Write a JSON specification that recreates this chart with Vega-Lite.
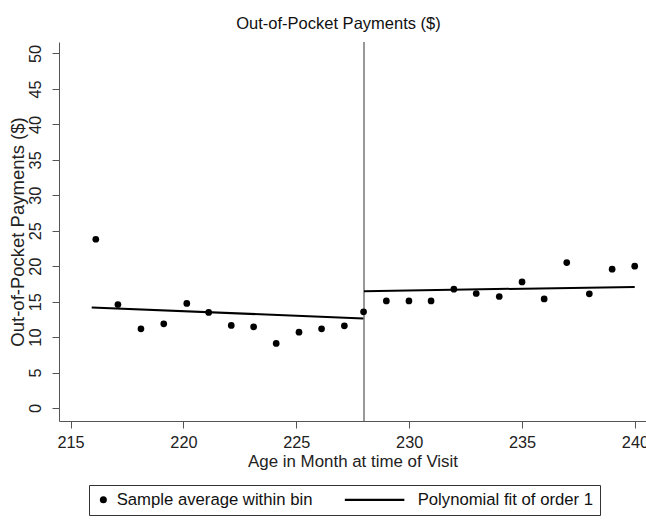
{
  "$schema": "https://vega.github.io/schema/vega-lite/v6.json",
  "width": 587,
  "height": 379,
  "autosize": {"type": "none"},
  "padding": {"left": 59, "top": 42, "right": 0, "bottom": 100},
  "background": "white",
  "config": {
    "font": "Liberation Sans, Arial, sans-serif",
    "view": {"stroke": null},
    "axis": {
      "grid": false,
      "domainColor": "#555555",
      "tickColor": "#555555",
      "tickSize": 7,
      "labelColor": "#222222",
      "titleColor": "#222222",
      "labelFont": "Liberation Sans, Arial, sans-serif",
      "titleFont": "Liberation Sans, Arial, sans-serif",
      "titleFontWeight": "normal",
      "labelFontSize": 16.3,
      "titleFontSize": 16.9,
      "labelOverlap": false
    },
    "axisY": {"labelAngle": -90, "labelOverlap": false}
  },
  "title": {
    "text": "Out-of-Pocket Payments ($)",
    "font": "Liberation Sans, Arial, sans-serif",
    "fontSize": 16.5,
    "fontWeight": "normal",
    "color": "#111111",
    "anchor": "middle",
    "offset": 9,
    "dx": -14
  },
  "datasets": {
    "bins": [
      {"age": 216.12, "pay": 23.8, "series": "Sample average within bin"},
      {"age": 217.1, "pay": 14.6, "series": "Sample average within bin"},
      {"age": 218.12, "pay": 11.17, "series": "Sample average within bin"},
      {"age": 219.13, "pay": 11.87, "series": "Sample average within bin"},
      {"age": 220.15, "pay": 14.75, "series": "Sample average within bin"},
      {"age": 221.12, "pay": 13.48, "series": "Sample average within bin"},
      {"age": 222.12, "pay": 11.65, "series": "Sample average within bin"},
      {"age": 223.11, "pay": 11.45, "series": "Sample average within bin"},
      {"age": 224.11, "pay": 9.11, "series": "Sample average within bin"},
      {"age": 225.12, "pay": 10.7, "series": "Sample average within bin"},
      {"age": 226.12, "pay": 11.17, "series": "Sample average within bin"},
      {"age": 227.13, "pay": 11.6, "series": "Sample average within bin"},
      {"age": 227.98, "pay": 13.56, "series": "Sample average within bin"},
      {"age": 228.99, "pay": 15.11, "series": "Sample average within bin"},
      {"age": 229.99, "pay": 15.11, "series": "Sample average within bin"},
      {"age": 230.97, "pay": 15.11, "series": "Sample average within bin"},
      {"age": 231.98, "pay": 16.76, "series": "Sample average within bin"},
      {"age": 232.97, "pay": 16.15, "series": "Sample average within bin"},
      {"age": 233.99, "pay": 15.73, "series": "Sample average within bin"},
      {"age": 235.0, "pay": 17.79, "series": "Sample average within bin"},
      {"age": 235.98, "pay": 15.39, "series": "Sample average within bin"},
      {"age": 236.98, "pay": 20.52, "series": "Sample average within bin"},
      {"age": 237.98, "pay": 16.1, "series": "Sample average within bin"},
      {"age": 238.99, "pay": 19.58, "series": "Sample average within bin"},
      {"age": 239.99, "pay": 20.0, "series": "Sample average within bin"}
    ],
    "fit": [
      {"age": 215.94, "pay": 14.18, "side": "below"},
      {"age": 227.97, "pay": 12.63, "side": "below"},
      {"age": 228.0, "pay": 16.48, "side": "above"},
      {"age": 239.99, "pay": 17.08, "side": "above"}
    ],
    "cutoff": [{"age": 228}]
  },
  "layer": [
    {
      "data": {"name": "cutoff"},
      "mark": {"type": "rule", "color": "#333333", "strokeWidth": 1},
      "encoding": {
        "x": {
          "field": "age",
          "type": "quantitative",
          "scale": {"domain": [214.49, 240.49], "nice": false, "zero": false},
          "axis": {
            "title": "Age in Month at time of Visit",
            "values": [215, 220, 225, 230, 235, 240],
            "labelPadding": 6,
            "titlePadding": 3,
            "labelFlush": false
          }
        }
      }
    },
    {
      "data": {"name": "fit"},
      "mark": {"type": "line", "color": "#000000", "strokeWidth": 2},
      "encoding": {
        "x": {
          "field": "age",
          "type": "quantitative",
          "scale": {"domain": [214.49, 240.49], "nice": false, "zero": false},
          "axis": {
            "title": "Age in Month at time of Visit",
            "values": [215, 220, 225, 230, 235, 240],
            "labelPadding": 6,
            "titlePadding": 3,
            "labelFlush": false
          }
        },
        "y": {
          "field": "pay",
          "type": "quantitative",
          "scale": {"domain": [-1.83, 51.62], "nice": false, "zero": false},
          "axis": {
            "title": "Out-of-Pocket Payments ($)",
            "titleFontSize": 18.5,
            "values": [0, 5, 10, 15, 20, 25, 30, 35, 40, 45, 50],
            "labelAngle": -90,
            "labelOverlap": false,
            "labelPadding": 9,
            "titlePadding": 0
          }
        },
        "detail": {"field": "side"}
      }
    },
    {
      "data": {"name": "bins"},
      "mark": {"type": "point", "filled": true, "size": 45, "opacity": 1, "color": "#000000"},
      "encoding": {
        "x": {
          "field": "age",
          "type": "quantitative",
          "scale": {"domain": [214.49, 240.49], "nice": false, "zero": false},
          "axis": {
            "title": "Age in Month at time of Visit",
            "values": [215, 220, 225, 230, 235, 240],
            "labelPadding": 6,
            "titlePadding": 3,
            "labelFlush": false
          }
        },
        "y": {
          "field": "pay",
          "type": "quantitative",
          "scale": {"domain": [-1.83, 51.62], "nice": false, "zero": false},
          "axis": {
            "title": "Out-of-Pocket Payments ($)",
            "titleFontSize": 18.5,
            "values": [0, 5, 10, 15, 20, 25, 30, 35, 40, 45, 50],
            "labelAngle": -90,
            "labelOverlap": false,
            "labelPadding": 9,
            "titlePadding": 0
          }
        },
        "shape": {
          "field": "series",
          "type": "nominal",
          "scale": {
            "domain": ["Sample average within bin", "Polynomial fit of order 1"],
            "range": ["circle", "M-17,-0.3H0V0.3H-17Z"]
          },
          "legend": {
            "title": null,
            "orient": "none",
            "legendX": 30,
            "legendY": 443,
            "direction": "horizontal",
            "columns": 2,
            "columnPadding": 28,
            "padding": 6,
            "strokeColor": "#333333",
            "labelOffset": 5,
            "labelFontSize": 16.7,
            "labelFont": "Liberation Sans, Arial, sans-serif",
            "labelColor": "#111111",
            "labelLimit": 0,
            "symbolSize": 49,
            "symbolFillColor": "#000000",
            "symbolStrokeColor": "#000000"
          }
        }
      }
    }
  ]
}
